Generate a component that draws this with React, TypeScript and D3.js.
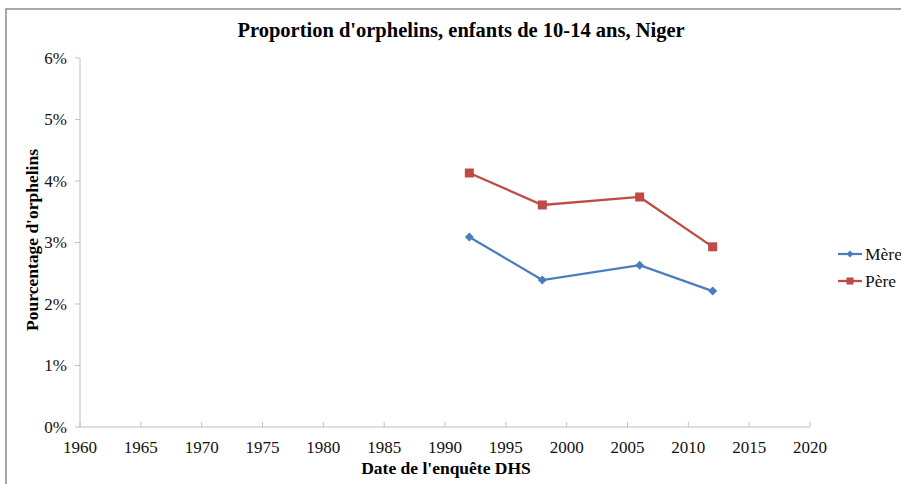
import React from "react";
import * as d3 from "d3";

const years = [1992, 1998, 2006, 2012];
const mere = [3.09, 2.39, 2.63, 2.21];
const pere = [4.13, 3.61, 3.74, 2.93];
const xTicks = [1960, 1965, 1970, 1975, 1980, 1985, 1990, 1995, 2000, 2005, 2010, 2015, 2020];
const yTicks = [0, 1, 2, 3, 4, 5, 6];
const seriesNames = ["Mère", "Père"];

const W = 901, H = 484;
const FONT = "'Liberation Serif', 'Times New Roman', serif";

export default function App() {
  const x = d3.scaleLinear().domain([1960, 2020]).range([80, 810]);
  const y = d3.scaleLinear().domain([0, 6]).range([427, 58]);
  const line = d3.line<[number, number]>().x(d => x(d[0])).y(d => y(d[1]));
  const mereData = years.map((yr, i) => [yr, mere[i]] as [number, number]);
  const pereData = years.map((yr, i) => [yr, pere[i]] as [number, number]);
  const blue = "#4A7EBB";
  const red = "#BE4B48";
  const axisColor = "#BFBFBF";
  const diamond = (cx: number, cy: number, r = 4.5) => `M${cx},${cy - r}L${cx + r},${cy}L${cx},${cy + r}L${cx - r},${cy}Z`;

  return (
    <div style={{ position: "fixed", left: 0, top: 0 }}>
      <svg width={W} height={H} style={{ display: "block", background: "#fff" }}>
        <rect x={6} y={9} width={2000} height={2000} fill="#fff" stroke="#8c8c8c" strokeWidth={1.5} />
        <text x={461} y={37} textAnchor="middle" fontFamily={FONT} fontWeight="bold" fontSize={20.5}>
          Proportion d'orphelins, enfants de 10-14 ans, Niger
        </text>
        {/* y axis */}
        <line x1={x(1960)} x2={x(1960)} y1={y(0)} y2={y(6)} stroke={axisColor} strokeWidth={1} />
        {yTicks.map(t => (
          <g key={"y" + t}>
            <line x1={x(1960) - 5} x2={x(1960)} y1={y(t)} y2={y(t)} stroke={axisColor} />
            <text x={67} y={y(t) + 5.5} textAnchor="end" fontFamily={FONT} fontSize={17} fill="#111">
              {t + "%"}
            </text>
          </g>
        ))}
        {/* x axis */}
        <line x1={x(1960)} x2={x(2020)} y1={y(0)} y2={y(0)} stroke={axisColor} strokeWidth={1} />
        {xTicks.map(t => (
          <g key={"x" + t}>
            <line x1={x(t)} x2={x(t)} y1={y(0)} y2={y(0) - 5} stroke={axisColor} />
            <text x={x(t)} y={453} textAnchor="middle" fontFamily={FONT} fontSize={17} fill="#111">
              {t}
            </text>
          </g>
        ))}
        <text x={446} y={474} textAnchor="middle" fontFamily={FONT} fontWeight="bold" fontSize={17.5}>
          Date de l'enquête DHS
        </text>
        <text transform={`translate(38,240) rotate(-90)`} textAnchor="middle" fontFamily={FONT} fontWeight="bold" fontSize={17.5}>
          Pourcentage d'orphelins
        </text>
        {/* series */}
        <path d={line(pereData) || ""} fill="none" stroke={red} strokeWidth={2.25} />
        {pereData.map((d, i) => (
          <rect key={"p" + i} x={x(d[0]) - 4.5} y={y(d[1]) - 4.5} width={9} height={9} fill={red} />
        ))}
        <path d={line(mereData) || ""} fill="none" stroke={blue} strokeWidth={2.25} />
        {mereData.map((d, i) => (
          <path key={"m" + i} d={diamond(x(d[0]), y(d[1]))} fill={blue} />
        ))}
        {/* legend */}
        <g>
          <line x1={838} x2={862} y1={254} y2={254} stroke={blue} strokeWidth={2.25} />
          <path d={diamond(850, 254, 3.5)} fill={blue} />
          <text x={865} y={260} fontFamily={FONT} fontSize={17.5} fill="#111">{seriesNames[0]}</text>
          <line x1={838} x2={862} y1={281} y2={281} stroke={red} strokeWidth={2.25} />
          <rect x={846.5} y={277.5} width={7} height={7} fill={red} />
          <text x={865} y={287} fontFamily={FONT} fontSize={17.5} fill="#111">{seriesNames[1]}</text>
        </g>
      </svg>
    </div>
  );
}
